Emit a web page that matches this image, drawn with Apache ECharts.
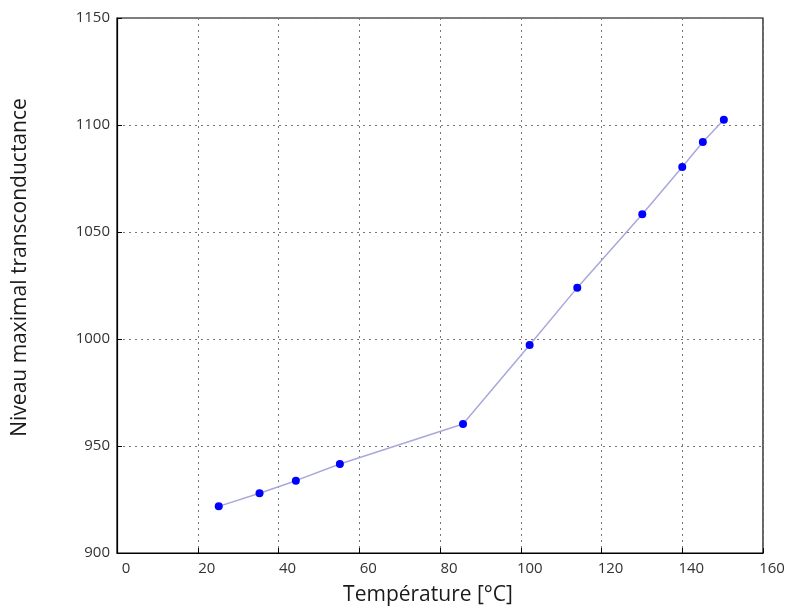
<!DOCTYPE html>
<html><head><meta charset="utf-8">
<script src="https://cdn.jsdelivr.net/npm/echarts@6/dist/echarts.min.js"></script>
<style>html,body{margin:0;padding:0;background:#fff}#c{width:790px;height:611px}</style>
</head><body><div id="c"></div>
<script>
const temperature = [25.2, 35.3, 44.3, 55.2, 85.7, 102.2, 114.0, 130.1, 140.0, 145.1, 150.3];
const transconductance = [921.8, 927.9, 933.8, 941.6, 960.3, 997.2, 1024.0, 1058.3, 1080.4, 1092.1, 1102.5];
const xTicks = [0, 20, 40, 60, 80, 100, 120, 140, 160];
const yTicks = [900, 950, 1000, 1050, 1100, 1150];

const font = '"Open Sans", sans-serif';
const chart = echarts.init(document.getElementById('c'));
chart.setOption({
  animation: false,
  backgroundColor: '#fff',
  grid: {left: 117, right: 27, top: 18, bottom: 58, show: true, borderColor: '#000', borderWidth: 1.2, backgroundColor: 'transparent'},
  xAxis: {
    type: 'value', min: xTicks[0], max: xTicks[xTicks.length-1], interval: 20,
    name: 'Température [°C]', nameLocation: 'middle', nameGap: 32,
    nameTextStyle: {fontFamily: font, fontSize: 21, color: '#1a1a1a', padding: [0, 24, 0, 0]},
    axisLine: {show: true, lineStyle: {color: '#000', width: 1.2}},
    axisTick: {show: true, inside: true, length: 5, lineStyle: {color: '#000'}},
    axisLabel: {fontFamily: font, fontSize: 15, color: '#333', margin: 8, padding: [0, 0, 0, 18], formatter: v => String(v)},
    splitLine: {show: true, lineStyle: {color: '#777', type: [2, 4], width: 1}}
  },
  yAxis: {
    type: 'value', min: yTicks[0], max: yTicks[yTicks.length-1], interval: 50,
    name: 'Niveau maximal transconductance', nameLocation: 'middle', nameGap: 86,
    nameTextStyle: {fontFamily: font, fontSize: 21, color: '#1a1a1a', padding: [0, 0, 0, 36]},
    axisLine: {show: true, lineStyle: {color: '#000', width: 1.2}},
    axisTick: {show: true, inside: true, length: 5, lineStyle: {color: '#000'}},
    axisLabel: {fontFamily: font, fontSize: 15, color: '#333', margin: 7, formatter: v => String(v)},
    splitLine: {show: true, lineStyle: {color: '#777', type: [2, 4], width: 1}}
  },
  series: [{
    type: 'line',
    data: temperature.map((t, i) => [t, transconductance[i]]),
    symbol: 'circle', symbolSize: 8,
    itemStyle: {color: '#0000ff'},
    lineStyle: {color: '#a8a8dc', width: 1.5}
  }]
});
</script></body></html>
